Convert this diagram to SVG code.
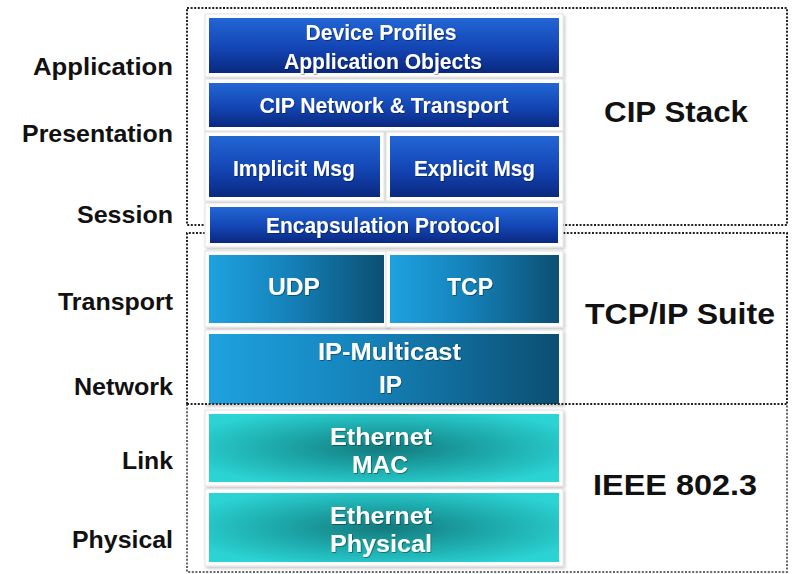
<svg xmlns="http://www.w3.org/2000/svg" width="794" height="574" viewBox="0 0 794 574">
<defs>
<linearGradient id="gBlue" x1="0" y1="0" x2="0" y2="1">
<stop offset="0" stop-color="#2266d4"/>
<stop offset="0.55" stop-color="#1345b4"/>
<stop offset="1" stop-color="#0a287f"/>
</linearGradient>
<linearGradient id="gTcp" x1="0" y1="0" x2="1" y2="0">
<stop offset="0" stop-color="#1ea2df"/>
<stop offset="0.45" stop-color="#1582ba"/>
<stop offset="1" stop-color="#0b4f72"/>
</linearGradient>
<radialGradient id="gEth" cx="0.5" cy="0.5" r="0.6">
<stop offset="0" stop-color="#137a7c"/>
<stop offset="0.55" stop-color="#1eacae"/>
<stop offset="1" stop-color="#2cd3d3"/>
</radialGradient>
<filter id="sh" x="-5%" y="-10%" width="112%" height="130%">
<feDropShadow dx="1.5" dy="2" stdDeviation="1.5" flood-color="#000" flood-opacity="0.22"/>
</filter>
<filter id="ts" x="-5%" y="-20%" width="110%" height="140%">
<feDropShadow dx="0.8" dy="0.8" stdDeviation="0.6" flood-color="#000" flood-opacity="0.45"/>
</filter>
</defs>
<style>
.back{fill:#ffffff;stroke:#e2e2e2;stroke-width:1;filter:url(#sh)}
.blue{fill:url(#gBlue)}
.tcp{fill:url(#gTcp)}
.eth{fill:url(#gEth)}
.bt{font-family:"Liberation Sans",Arial,sans-serif;font-weight:bold;font-size:22px;fill:#ffffff;text-anchor:middle;filter:url(#ts)}
.lbl{font-family:"Liberation Sans",Arial,sans-serif;font-weight:bold;font-size:24px;fill:#111111;text-anchor:end}
.big{font-family:"Liberation Sans",Arial,sans-serif;font-weight:bold;font-size:29px;fill:#111111;text-anchor:middle}
.dot{fill:none;stroke:#222222;stroke-width:2;stroke-dasharray:2 1.6}
</style>
<rect x="0" y="0" width="794" height="574" fill="#ffffff"/>
<g id="regions">
<rect class="dot" x="187" y="8" width="600" height="217"/>
<path class="dot" d="M187,404 V233 H787 V404"/>
<path class="dot" d="M187,404 V572 H787 V404" style="stroke:#666666"/>
</g>
<g id="connectors"/>
<g id="layer-labels">
<text class="lbl" x="173" y="75" textLength="140" lengthAdjust="spacingAndGlyphs">Application</text>
<text class="lbl" x="173" y="142" textLength="151" lengthAdjust="spacingAndGlyphs">Presentation</text>
<text class="lbl" x="173" y="223" textLength="96" lengthAdjust="spacingAndGlyphs">Session</text>
<text class="lbl" x="173" y="310" textLength="115" lengthAdjust="spacingAndGlyphs">Transport</text>
<text class="lbl" x="173" y="395" textLength="99" lengthAdjust="spacingAndGlyphs">Network</text>
<text class="lbl" x="173" y="469" textLength="51" lengthAdjust="spacingAndGlyphs">Link</text>
<text class="lbl" x="173" y="548" textLength="101" lengthAdjust="spacingAndGlyphs">Physical</text>
</g>
<g id="node-device-profiles">
<rect class="back" x="205" y="14" width="358" height="63"/>
<rect class="blue" x="209" y="18" width="350" height="55"/>
<text class="bt" x="381" y="40" textLength="151" lengthAdjust="spacingAndGlyphs">Device Profiles</text>
<text class="bt" x="383" y="69" textLength="198" lengthAdjust="spacingAndGlyphs">Application Objects</text>
</g>
<g id="node-cip-network">
<rect class="back" x="205" y="79" width="358" height="52"/>
<rect class="blue" x="209" y="83" width="350" height="44"/>
<text class="bt" x="384" y="113" textLength="249" lengthAdjust="spacingAndGlyphs">CIP Network &amp; Transport</text>
</g>
<g id="node-implicit">
<rect class="back" x="205" y="132" width="179" height="69"/>
<rect class="blue" x="209" y="136" width="171" height="61"/>
<text class="bt" x="294" y="176" textLength="122" lengthAdjust="spacingAndGlyphs">Implicit Msg</text>
</g>
<g id="node-explicit">
<rect class="back" x="386" y="132" width="177" height="69"/>
<rect class="blue" x="390" y="136" width="169" height="61"/>
<text class="bt" x="474.5" y="176" textLength="121" lengthAdjust="spacingAndGlyphs">Explicit Msg</text>
</g>
<g id="node-encapsulation">
<rect class="back" x="205" y="203" width="358" height="44"/>
<rect class="blue" x="210" y="207" width="348" height="36"/>
<text class="bt" x="383" y="233" textLength="234" lengthAdjust="spacingAndGlyphs">Encapsulation Protocol</text>
</g>
<g id="node-udp">
<rect class="back" x="205" y="251" width="183" height="76"/>
<rect class="tcp" x="209" y="255" width="175" height="68"/>
<text class="bt" x="294" y="295" style="font-size:24px" textLength="52" lengthAdjust="spacingAndGlyphs">UDP</text>
</g>
<g id="node-tcp">
<rect class="back" x="386" y="251" width="177" height="76"/>
<rect class="tcp" x="390" y="255" width="169" height="68"/>
<text class="bt" x="470" y="295" style="font-size:24px" textLength="46" lengthAdjust="spacingAndGlyphs">TCP</text>
</g>
<g id="node-ip">
<rect class="back" x="205" y="330" width="358" height="74"/>
<rect class="tcp" x="209" y="334" width="350" height="70"/>
<text class="bt" x="389.5" y="360" style="font-size:23px" textLength="143" lengthAdjust="spacingAndGlyphs">IP-Multicast</text>
<text class="bt" x="390.5" y="393" style="font-size:23px" textLength="23" lengthAdjust="spacingAndGlyphs">IP</text>
</g>
<g id="regions-divider">
<line class="dot" x1="187" y1="404" x2="787" y2="404"/>
</g>
<g id="node-ethernet-mac">
<rect class="back" x="205" y="410" width="358" height="76"/>
<rect class="eth" x="209" y="414" width="350" height="68"/>
<text class="bt" x="381" y="445" style="font-size:23px" textLength="102" lengthAdjust="spacingAndGlyphs">Ethernet</text>
<text class="bt" x="380" y="473" style="font-size:23px" textLength="56" lengthAdjust="spacingAndGlyphs">MAC</text>
</g>
<g id="node-ethernet-physical">
<rect class="back" x="205" y="489" width="358" height="77"/>
<rect class="eth" x="209" y="493" width="350" height="69"/>
<text class="bt" x="381" y="524" style="font-size:23px" textLength="102" lengthAdjust="spacingAndGlyphs">Ethernet</text>
<text class="bt" x="381" y="552" style="font-size:23px" textLength="102" lengthAdjust="spacingAndGlyphs">Physical</text>
</g>
<g id="group-labels">
<text class="big" x="676" y="122" textLength="144" lengthAdjust="spacingAndGlyphs">CIP Stack</text>
<text class="big" x="680" y="324" textLength="190" lengthAdjust="spacingAndGlyphs">TCP/IP Suite</text>
<text class="big" x="675" y="495" textLength="164" lengthAdjust="spacingAndGlyphs">IEEE 802.3</text>
</g>
</svg>
